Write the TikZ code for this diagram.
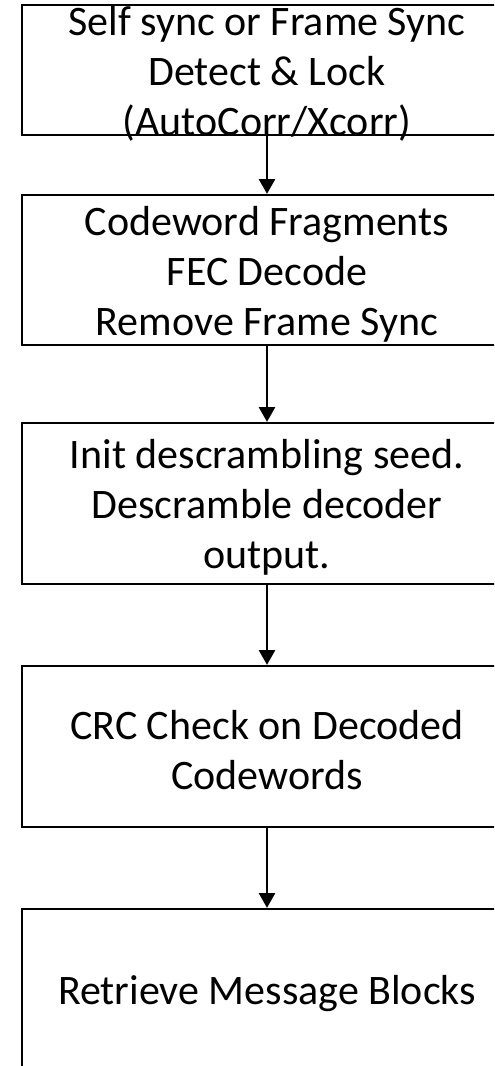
\documentclass[tikz,border=0pt]{standalone}
\usepackage{fontspec}
\setmainfont{Carlito}
\usetikzlibrary{arrows.meta}

\tikzset{
  stepbox/.style={draw, line width=1.7pt, minimum width=367.5pt, inner sep=0pt},
  steptext/.style={align=center, inner sep=0pt, yshift=-3pt, font=\fontsize{31.5}{37.5}\selectfont},
  flow/.style={-{Triangle[width=12pt,length=11pt]}, line width=1.5pt},
}

\begin{document}
\begin{tikzpicture}[x=0.75pt,y=-0.75pt]
    \useasboundingbox (0,0) rectangle (494,1066);
    \clip (0,0) rectangle (494,1066);
    % boxes
    \node[stepbox, minimum height=97.5pt] (sync) at (267,70) {};
    \node[stepbox, minimum height=112.5pt] (fec) at (267,270) {};
    \node[stepbox, minimum height=120.75pt] (descr) at (267,503.5) {};
    \node[stepbox, minimum height=120.75pt] (crc) at (267,746.5) {};
    \node[stepbox, minimum height=120.75pt] (msg) at (267,989.5) {};
    % texts
    \node[steptext] (synctxt) at (sync) {Self sync or Frame Sync\\Detect \& Lock\\(AutoCorr/Xcorr)};
    \node[steptext] (fectxt) at (fec) {Codeword Fragments\\FEC Decode\\Remove Frame Sync};
    \node[steptext] (descrtxt) at (descr) {Init descrambling seed.\\Descramble decoder\\output.};
    \node[steptext] (crctxt) at (crc) {CRC Check on Decoded\\Codewords};
    \node[steptext] (msgtxt) at (msg) {Retrieve Message Blocks};
    % arrows
    \draw[flow] (sync) to (fec);
    \draw[flow] (fec) to (descr);
    \draw[flow] (descr) to (crc);
    \draw[flow] (crc) to (msg);
\end{tikzpicture}
\end{document}
